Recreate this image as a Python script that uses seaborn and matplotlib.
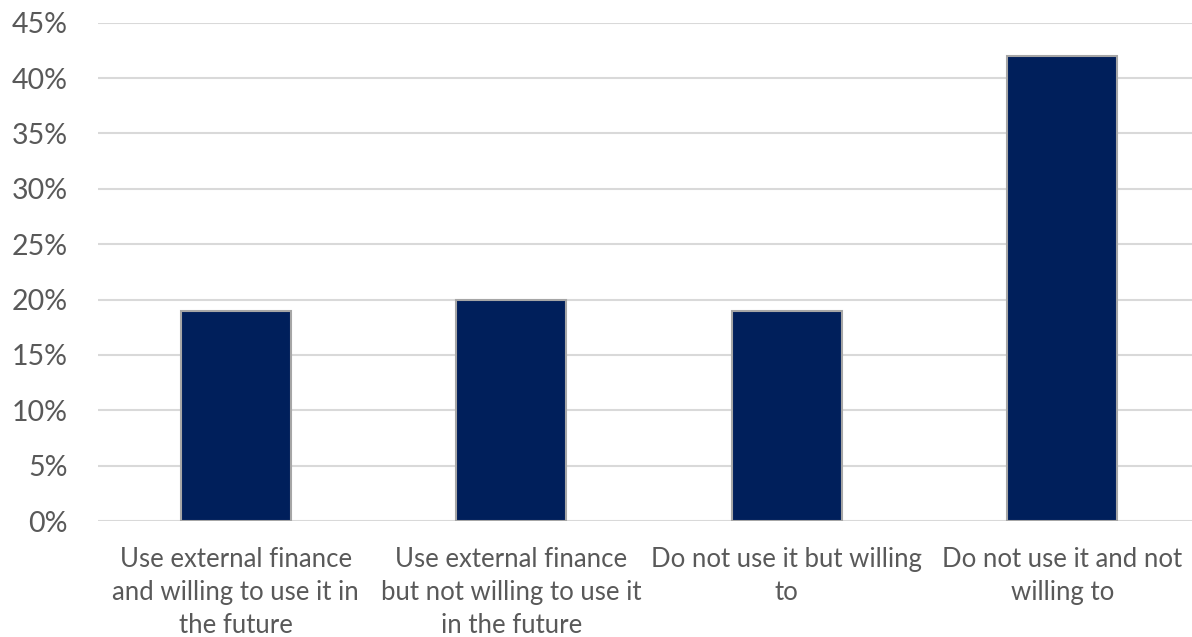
import matplotlib
matplotlib.use("Agg")
import matplotlib.pyplot as plt
import seaborn as sns
import pandas as pd
from matplotlib.ticker import FuncFormatter, MultipleLocator

categories = [
    "Use external finance\nand willing to use it in\nthe future",
    "Use external finance\nbut not willing to use it\nin the future",
    "Do not use it but willing\nto",
    "Do not use it and not\nwilling to",
]
shares = [19, 20, 19, 42]

df = pd.DataFrame({"category": categories, "share": shares})

sns.set_theme(style="white")
plt.rcParams["font.family"] = ["Lato", "DejaVu Sans"]

W, H = 1192, 637
fig = plt.figure(figsize=(W / 100, H / 100), dpi=100)
ax = fig.add_axes([98 / W, (H - 521) / H, 1102 / W, 498.3 / H])

sns.barplot(data=df, x="category", y="share", ax=ax, color="#001F5B",
            width=0.40, edgecolor="#A6A6A6", linewidth=1.5, saturation=1, zorder=3)

ax.set_ylim(0, 45)
ax.set_xlim(-0.5, 3.5)
ax.yaxis.set_major_locator(MultipleLocator(5))
ax.yaxis.set_major_formatter(FuncFormatter(lambda v, p: f"{int(round(v))}%"))
ax.grid(axis="y", color="#D9D9D9", linewidth=1.5, zorder=0)
ax.set_axisbelow(True)
for s in ax.spines.values():
    s.set_visible(False)
ax.set_xlabel("")
ax.set_ylabel("")
ax.tick_params(axis="y", length=0, pad=22, labelsize=20.5, labelcolor="#595959")
ax.tick_params(axis="x", length=0, pad=19, labelsize=18.5, labelcolor="#595959")
for t in ax.get_xticklabels():
    t.set_linespacing(1.4)

fig.savefig("out.png", dpi=100)
